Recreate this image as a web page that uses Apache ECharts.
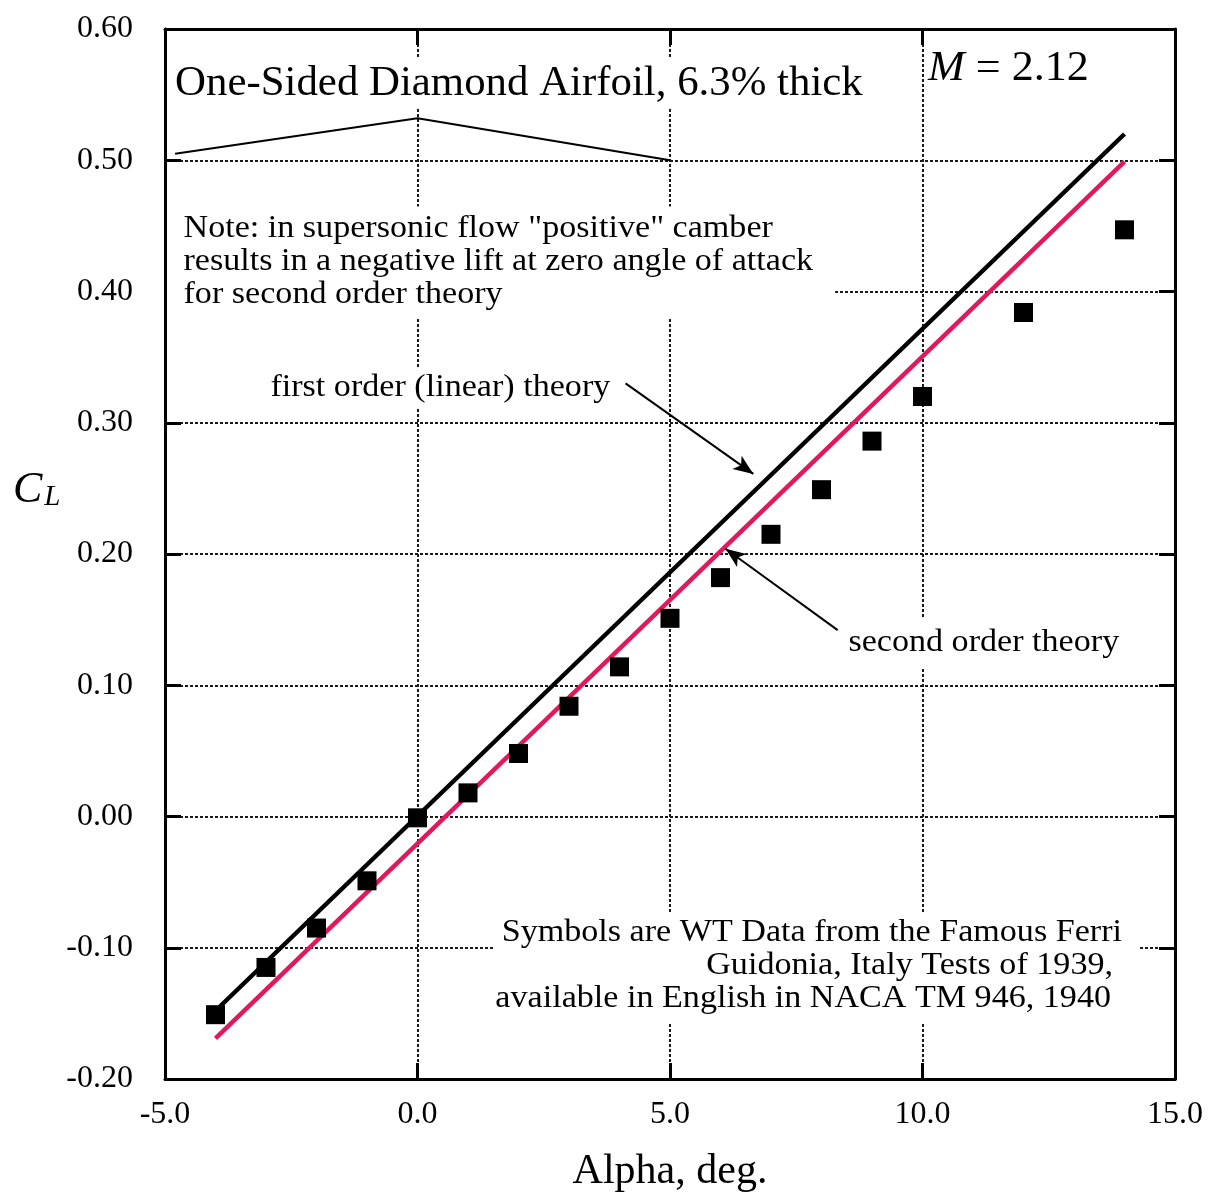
<!DOCTYPE html>
<html>
<head>
<meta charset="utf-8">
<script src="https://cdn.jsdelivr.net/npm/echarts@6/dist/echarts.min.js"></script>
<style>
  html, body { margin: 0; padding: 0; background: #fff; }
  #chart { width: 1215px; height: 1198px; }
</style>
</head>
<body>
<div id="chart"></div>
<script>
// Wind-tunnel data: angle of attack (deg) and measured lift coefficient
const alphaDeg = [-4, -3, -2, -1, 0, 1, 2, 3, 4, 5, 6, 7, 8, 9, 10, 12, 14];
const liftCoef = [-0.151, -0.115, -0.085, -0.049, -0.001, 0.018, 0.048, 0.084, 0.114,
                  0.151, 0.182, 0.215, 0.249, 0.286, 0.320, 0.384, 0.447];

// Theory lines (end points)
const firstOrderAlpha = [-4, 14];
const firstOrderCL = [-0.148, 0.520];
const secondOrderAlpha = [-4, 14];
const secondOrderCL = [-0.169, 0.499];

// Airfoil section sketch (drawn in plot units)
const airfoilX = [-4.8, 0, 5];
const airfoilY = [0.505, 0.532, 0.500];

// Leader arrows for the theory labels: [tail, head]
const firstOrderArrow = [[4.12, 0.330], [6.65, 0.261]];
const secondOrderArrow = [[8.32, 0.142], [6.10, 0.204]];

// Axis ranges / ticks
const xTicks = { min: -5, max: 15, step: 5 };
const yTicks = { min: -0.2, max: 0.6, step: 0.1 };

const SERIF = '"Liberation Serif", "Times New Roman", serif';
const pairs = (xs, ys) => xs.map((x, i) => [x, ys[i]]);
const fmt = (v, d) => (Math.abs(v) < 1e-9 ? 0 : v).toFixed(d);

const chart = echarts.init(document.getElementById('chart'), null, { renderer: 'canvas' });

const frameLine = { show: true, onZero: false, lineStyle: { color: '#000', width: 3 } };
const tickIn = { show: true, inside: true, length: 16, lineStyle: { color: '#000', width: 3 } };
const gridDots = { show: true, lineStyle: { color: '#1a1a1a', width: 2, type: [3, 2] } };

// annotation text helper: slightly widened serif to match the typeset notes
const note = (text, x, y, extra) => Object.assign({
  type: 'text', x: x, y: y, z: 10, scaleX: 1.1,
  style: Object.assign({
    text: text, fontFamily: SERIF, fontSize: 31, lineHeight: 33, fill: '#000',
    verticalAlign: 'middle'
  }, extra || {})
});

const option = {
  backgroundColor: '#fff',
  animation: false,
  grid: { left: 165, top: 29, right: 40, bottom: 113, containLabel: false },
  xAxis: [
    {
      type: 'value', min: xTicks.min, max: xTicks.max, interval: xTicks.step,
      position: 'bottom',
      axisLine: frameLine, axisTick: tickIn, splitLine: gridDots,
      axisLabel: { color: '#000', fontFamily: SERIF, fontSize: 32, margin: 20,
                   formatter: v => fmt(v, 1) },
      name: 'Alpha, deg.', nameLocation: 'middle', nameGap: 72,
      nameTextStyle: { color: '#000', fontFamily: SERIF, fontSize: 42 }
    },
    {
      type: 'value', min: xTicks.min, max: xTicks.max, interval: xTicks.step,
      position: 'top',
      axisLine: frameLine, axisTick: tickIn, splitLine: { show: false },
      axisLabel: { show: false }
    }
  ],
  yAxis: [
    {
      type: 'value', min: yTicks.min, max: yTicks.max, interval: yTicks.step,
      position: 'left',
      axisLine: frameLine, axisTick: tickIn, splitLine: gridDots,
      axisLabel: { color: '#000', fontFamily: SERIF, fontSize: 32, margin: 32,
                   formatter: v => fmt(v, 2) }
    },
    {
      type: 'value', min: yTicks.min, max: yTicks.max, interval: yTicks.step,
      position: 'right',
      axisLine: frameLine, axisTick: tickIn, splitLine: { show: false },
      axisLabel: { show: false }
    }
  ],
  series: [
    {
      name: 'airfoil', type: 'line', data: pairs(airfoilX, airfoilY),
      symbol: 'none', lineStyle: { color: '#000', width: 2 }, z: 6, silent: true
    },
    {
      name: 'first order (linear) theory', type: 'line',
      data: pairs(firstOrderAlpha, firstOrderCL),
      symbol: 'none', lineStyle: { color: '#000', width: 4.5 }, z: 4,
      markLine: {
        silent: true, symbol: ['none', 'arrow'], symbolSize: [12, 20],
        label: { show: false },
        lineStyle: { color: '#000', width: 2, type: 'solid' },
        data: [
          [{ coord: firstOrderArrow[0] }, { coord: firstOrderArrow[1] }],
          [{ coord: secondOrderArrow[0] }, { coord: secondOrderArrow[1] }]
        ]
      }
    },
    {
      name: 'second order theory', type: 'line',
      data: pairs(secondOrderAlpha, secondOrderCL),
      symbol: 'none', lineStyle: { color: '#e0195c', width: 4.5 }, z: 4
    },
    {
      name: 'WT data', type: 'scatter', data: pairs(alphaDeg, liftCoef),
      symbol: 'rect', symbolSize: 19, itemStyle: { color: '#000', opacity: 1 }, z: 5
    }
  ],
  graphic: [
    {
      type: 'text', left: 13, top: 468, z: 10,
      style: {
        text: '{c|C}{l|L}', fontFamily: SERIF,
        rich: {
          c: { fontFamily: SERIF, fontStyle: 'italic', fontSize: 44, fill: '#000', verticalAlign: 'bottom' },
          l: { fontFamily: SERIF, fontStyle: 'italic', fontSize: 29, fill: '#000', padding: [18, 0, 0, 2] }
        }
      }
    },
    {
      type: 'text', x: 171, y: 84, z: 10, scaleX: 1.02,
      style: {
        text: 'One-Sided Diamond Airfoil, 6.3% thick', fontFamily: SERIF, fontSize: 42,
        fill: '#000', verticalAlign: 'middle', backgroundColor: '#fff', padding: [4, 4, 4, 4]
      }
    },
    {
      type: 'text', x: 928, y: 69, z: 10, scaleX: 1.05,
      style: {
        text: '{m|M} = 2.12', fontFamily: SERIF, fontSize: 42, fill: '#000', verticalAlign: 'middle',
        rich: { m: { fontFamily: SERIF, fontStyle: 'italic', fontSize: 42, fill: '#000' } }
      }
    },
    note('Note: in supersonic flow "positive" camber\nresults in a negative lift at zero angle of attack\nfor second order theory',
         167, 262, { backgroundColor: '#fff', padding: [6, 20, 6, 15] }),
    note('first order (linear) theory', 266, 388, { backgroundColor: '#fff', padding: [4, 4, 4, 4] }),
    note('second order theory', 844, 643, { backgroundColor: '#fff', padding: [14, 4, 4, 4] }),
    {
      type: 'rect', z: 9, silent: true,
      shape: { x: 495, y: 913, width: 645, height: 109 },
      style: { fill: '#fff' }
    },
    note('Symbols are WT Data from the Famous Ferri', 1122, 933, { align: 'right' }),
    note('Guidonia, Italy Tests of 1939,', 1113, 966, { align: 'right' }),
    note('available in English in NACA TM 946, 1940', 1111, 999, { align: 'right' })
  ]
};

chart.setOption(option);
</script>
</body>
</html>
